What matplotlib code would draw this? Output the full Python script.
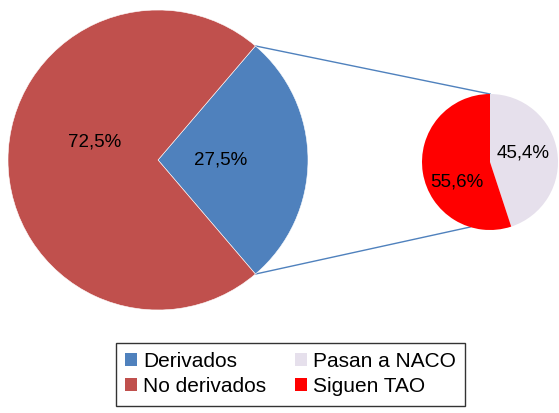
import matplotlib
matplotlib.use('Agg')
import matplotlib.pyplot as plt
from matplotlib.patches import Patch
import numpy as np

plt.rcParams['font.family'] = ['Liberation Sans', 'DejaVu Sans']

# main pie
main_labels = ['Derivados', 'No derivados']
main_values = [27.5, 72.5]
main_pct = ['27,5%', '72,5%']
main_colors = ['#4F81BD', '#C0504D']

# breakdown of "Derivados"
sub_labels = ['Pasan a NACO', 'Siguen TAO']
sub_values = [45.4, 55.6]
sub_pct = ['45,4%', '55,6%']
sub_colors = ['#E6E0EC', '#FF0000']

fig = plt.figure(figsize=(5.59, 4.13), dpi=100)
ax = fig.add_axes([0, 0, 1, 1])

big_c, big_r = (158, 253), 150
small_c, small_r = (490, 251), 68

# blue slice centred on the right side
start = -main_values[0] / sum(main_values) * 360 / 2
w1, t1 = ax.pie(main_values, colors=main_colors, startangle=start,
                center=big_c, radius=big_r, labels=main_pct,
                labeldistance=0.42,
                wedgeprops=dict(edgecolor='white', linewidth=0.4),
                textprops=dict(fontsize=13.5))
w2, t2 = ax.pie(sub_values, colors=sub_colors, startangle=90, counterclock=False,
                center=small_c, radius=small_r, labels=sub_pct,
                labeldistance=0.5,
                wedgeprops=dict(edgecolor='none'),
                textprops=dict(fontsize=13.5))
for t in t1 + t2:
    t.set_ha('center')
    t.set_va('center')

# nudge labels a bit like the original layout
t1[1].set_y(t1[1].get_position()[1] + 18)
t2[0].set_y(t2[0].get_position()[1] + 4)
t2[1].set_y(t2[1].get_position()[1] - 15)

# connector lines
def pt(c, r, ang):
    a = np.deg2rad(ang)
    return c[0] + r * np.cos(a), c[1] + r * np.sin(a)

b_top = pt(big_c, big_r, w1[0].theta2)
b_bot = pt(big_c, big_r, w1[0].theta1)
s_top = pt(small_c, small_r, 90)
s_bot = pt(small_c, small_r, -107)
ax.plot([b_top[0], s_top[0]], [b_top[1], s_top[1]], color='#4F81BD', lw=1, zorder=0)
ax.plot([b_bot[0], s_bot[0]], [b_bot[1], s_bot[1]], color='#4F81BD', lw=1, zorder=0)

ax.set_xlim(0, 559)
ax.set_ylim(0, 413)
ax.set_aspect('equal')
ax.axis('off')

handles = [Patch(facecolor=c) for c in main_colors + sub_colors]
leg = fig.legend(handles, main_labels + sub_labels, ncol=2, loc='center',
                 bbox_to_anchor=(290.5 / 559, 1 - 374 / 413), fontsize=15,
                 frameon=True, fancybox=False, edgecolor='black',
                 handlelength=0.55, handleheight=0.55, handletextpad=0.3,
                 columnspacing=1.4, labelspacing=0.3, borderpad=0.45)
leg.get_frame().set_linewidth(1.0)

fig.savefig('out.png', dpi=100)
